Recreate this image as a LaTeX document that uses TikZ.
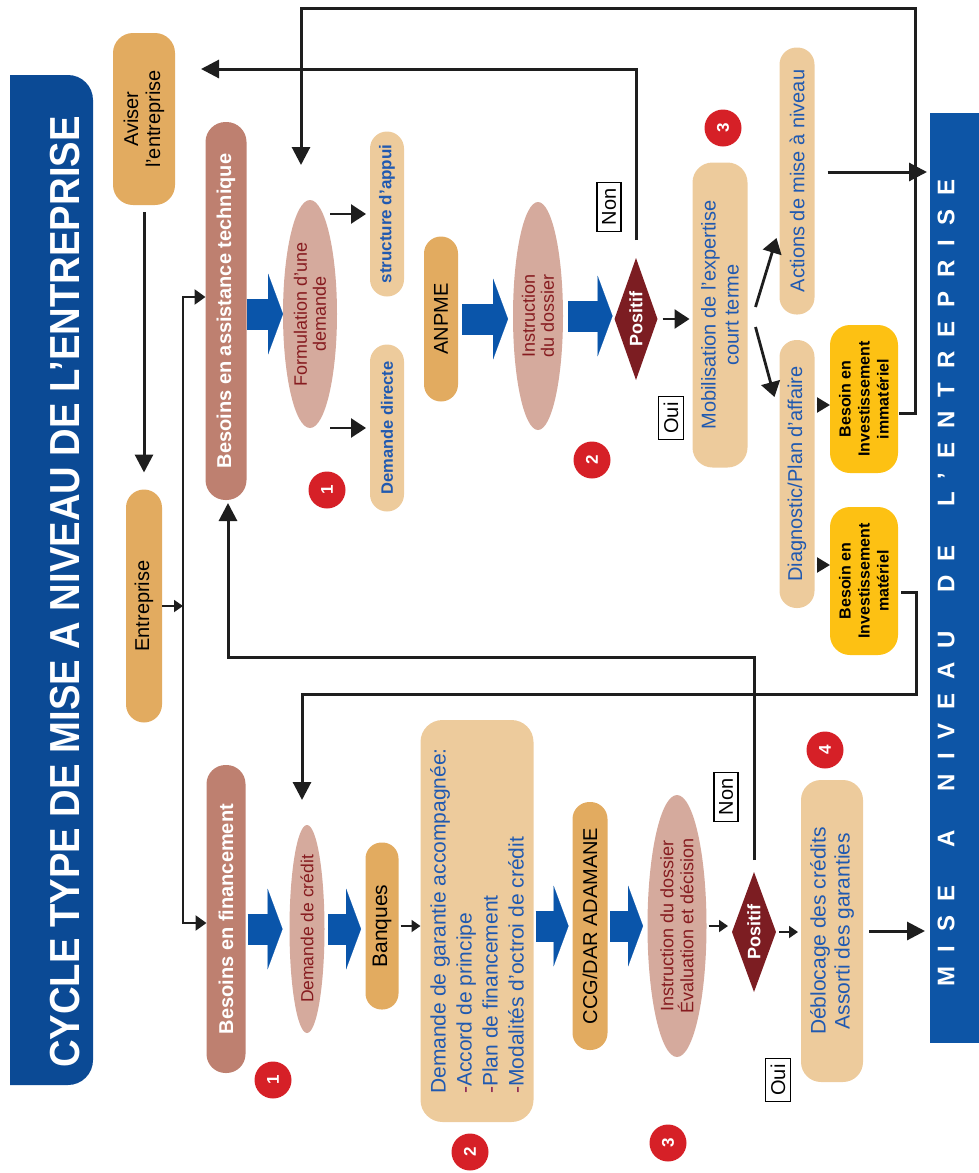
\documentclass[tikz,border=0pt]{standalone}
\usepackage{fontspec}
\setmainfont{Liberation Sans}
\setsansfont{Liberation Sans}
\newfontfamily\titlefont[FakeStretch=0.91]{Liberation Sans}
\newfontfamily\bandfont[LetterSpace=58]{Liberation Sans}
\usetikzlibrary{shapes.geometric,arrows.meta}

\definecolor{cTitle}{HTML}{0B4A95}
\definecolor{cBand}{HTML}{0D55A6}
\definecolor{cArrow}{HTML}{0A55AA}
\definecolor{cTan}{HTML}{E2AB60}
\definecolor{cBrown}{HTML}{BE8070}
\definecolor{cRose}{HTML}{D5AA9D}
\definecolor{cLight}{HTML}{EDCB9C}
\definecolor{cYellow}{HTML}{FDC113}
\definecolor{cDia}{HTML}{7C1D22}
\definecolor{cRed}{HTML}{D62027}
\definecolor{cRedTxt}{HTML}{861B1F}
\definecolor{cBlueTxt}{HTML}{2059B0}
\definecolor{cDash}{HTML}{8B2252}
\definecolor{cLine}{HTML}{1E1E1E}

\newcommand\setfs[2]{\fontsize{#1}{#2}\selectfont}

\tikzset{
  rot/.style={rotate=90, align=center, inner sep=0pt, outer sep=0pt},
  tanbox/.style={rot, fill=cTan, text=black, font=\setfs{20}{22}},
  brownbox/.style={rot, fill=cBrown, text=white, font=\bfseries\setfs{20}{22}},
  lightbox/.style={rot, fill=cLight, text=cBlueTxt, font=\setfs{20}{24}},
  yelbox/.style={rot, fill=cYellow, text=black, font=\bfseries\setfs{16}{19}},
  oval/.style={rot, ellipse, fill=cRose, text=cRedTxt, inner sep=-4pt, font=\setfs{18}{19}},
  decision/.style={rot, diamond, shape aspect=2.8, fill=cDia, text=white, font=\bfseries\setfs{18}{20}},
  tag/.style={rot, draw=black, line width=1.3pt, fill=white, inner xsep=6pt, inner ysep=5pt, font=\setfs{20}{20}},
  num/.style={rot, circle, fill=cRed, text=white, minimum size=37pt, font=\bfseries\setfs{17}{17}},
  fat/.style={draw=cArrow, line width=31pt, -{Triangle[length=15pt,width=81pt,line width=0.1pt]}},
  flow/.style={draw=cLine, line width=3pt, -{Triangle[length=18pt,width=18pt]}},
  sarrow/.style={draw=cLine, line width=2.8pt, -{Triangle[length=15pt,width=19pt]}},
  marrow/.style={draw=cLine, line width=2.4pt, -{Triangle[length=13pt,width=15pt]}},
  busarrow/.style={draw=cLine, line width=2.5pt, -{Triangle[length=11pt,width=15pt]}},
  tinyarrow/.style={draw=cLine, line width=1.8pt, -{Triangle[length=9pt,width=12pt]}},
}

\begin{document}
\begin{tikzpicture}[x=1pt, y=-1pt]
\useasboundingbox (0,0) rectangle (979,1173);

% ---- side bands
\begin{scope}
  \clip (10,0) rectangle (979,1173);
  \fill[cTitle, rounded corners=25pt] (-40,75) rectangle (93,1085);
\end{scope}
\node[rot, fill=cBand, minimum width=930pt, minimum height=49pt] (band) at (954.5,578) {};
\node[rot, text=white, font=\titlefont\bfseries\setfs{42}{42}] (title) at (65,592)
  {CYCLE TYPE DE MISE A NIVEAU DE L’ENTREPRISE};
\node[rot, text=white, font=\bandfont\bfseries\setfs{24}{24}] (bandtxt) at (946,583)
  {MISE\hspace{18pt} A\hspace{18pt} NIVEAU\hspace{18pt} DE\hspace{18pt} L’ENTREPRISE};

% ---- left column
\node[tanbox, minimum width=172pt, minimum height=62pt, rounded corners=20pt] (aviser) at (144,119) {Aviser\\l’entreprise};
\node[tanbox, minimum width=233pt, minimum height=36pt, rounded corners=18pt] (entre) at (144,606) {Entreprise};

% ---- technical assistance row
\node[brownbox, minimum width=378pt, minimum height=41pt, rounded corners=20pt] (besA) at (226,311) {Besoins en assistance technique};
\node[oval, minimum width=228pt, minimum height=54pt] (form) at (310,314) {Formulation d’une\\demande};
\node[lightbox, minimum width=165pt, minimum height=34pt, rounded corners=17pt, font=\bfseries\setfs{17}{17}] (struct) at (387,214) {structure d’appui};
\node[lightbox, minimum width=167pt, minimum height=34pt, rounded corners=17pt, font=\bfseries\setfs{16.5}{17}] (ddir) at (387,428) {Demande directe};
\node[tanbox, minimum width=165pt, minimum height=34pt, rounded corners=17pt] (anpme) at (441,319) {ANPME};
\node[oval, minimum width=228pt, minimum height=50pt] (instA) at (538,316) {Instruction\\du dossier};
\node[decision, minimum width=122pt, minimum height=43pt] (posA) at (636,319) {Positif};
\node[tag] (nonA) at (609,207) {Non};
\node[tag] (ouiA) at (671,418) {Oui};
\node[lightbox, minimum width=305pt, minimum height=55pt, rounded corners=20pt, font=\setfs{20}{23}] (mobil) at (720,315) {Mobilisation de l’expertise\\court terme};
\node[lightbox, minimum width=267pt, minimum height=35pt, rounded corners=17pt] (actions) at (797,181) {Actions de mise à niveau};
\node[lightbox, minimum width=268pt, minimum height=35pt, rounded corners=17pt] (diag) at (797,474) {Diagnostic/Plan d’affaire};
\node[yelbox, minimum width=148pt, minimum height=68pt, rounded corners=20pt] (immat) at (864,399) {Besoin en\\Investissement\\immatériel};
\node[yelbox, minimum width=148pt, minimum height=68pt, rounded corners=20pt] (mat) at (864,581) {Besoin en\\Investissement\\matériel};

% ---- financing row
\node[brownbox, minimum width=308pt, minimum height=39pt, rounded corners=19pt] (besF) at (226,919) {Besoins en financement};
\node[oval, minimum width=208pt, minimum height=35pt, font=\setfs{17.5}{18}] (credit) at (307,929) {Demande de crédit};
\node[tanbox, minimum width=167pt, minimum height=33pt, rounded corners=16pt, font=\setfs{21}{21}] (banques) at (382,926) {Banques};
\node[lightbox, minimum width=402pt, minimum height=113pt, rounded corners=22pt, align=left, font=\setfs{21}{26}] (garantie) at (477,921)
  {Demande de garantie accompagnée:\\\textcolor{cDash}{-}Accord de principe\\\textcolor{cDash}{-}Plan de financement\\\textcolor{cDash}{-}Modalités d’octroi de crédit};
\node[tanbox, minimum width=248pt, minimum height=35pt, rounded corners=17pt] (ccg) at (590,926) {CCG/DAR ADAMANE};
\node[oval, minimum width=262pt, minimum height=59pt, font=\setfs{18}{20}] (instB) at (677,926) {Instruction du dossier\\Évaluation et décision};
\node[decision, minimum width=120pt, minimum height=44pt] (posB) at (754,932) {Positif};
\node[tag] (nonB) at (726,797) {Non};
\node[tag] (ouiB) at (778,1080) {Oui};
\node[lightbox, minimum width=302pt, minimum height=62pt, rounded corners=20pt, font=\setfs{21}{24}] (debloc) at (832,931) {Déblocage des crédits\\Assorti des garanties};

% ---- step numbers
\node[num] (n1a) at (327,490) {1};
\node[num] (n2a) at (592,460) {2};
\node[num] (n3a) at (723,128) {3};
\node[num] (n1b) at (273,1080) {1};
\node[num] (n2b) at (470,1152) {2};
\node[num] (n3b) at (668,1143) {3};
\node[num] (n4b) at (825,750) {4};

% ---- bold process arrows
\draw[fat] (besA.south |- form.north) -- (form.north);
\draw[fat, shorten <=4pt, shorten >=5pt] (anpme.south) -- (anpme.south -| instA.north);
\draw[fat, shorten <=5pt, shorten >=2pt] (instA.south) -- (instA.south -| posA.north);
\draw[fat, shorten <=2pt, shorten >=7pt] (besF.south |- credit.north) -- (credit.north);
\draw[fat, shorten <=3.5pt, shorten >=4.5pt] (credit.south) -- (credit.south -| banques.north);
\draw[fat, shorten <=2pt, shorten >=4pt] (garantie.south |- ccg.north) -- (ccg.north);
\draw[fat, shorten <=2.5pt, shorten >=4.5pt] (ccg.south) -- (ccg.south -| instB.north);

% ---- entry bus
\coordinate (busTop) at (183,297);
\coordinate (busBot) at (183,923);
\draw[busarrow] (busBot) -- (busTop) -- (busTop -| besA.north);
\draw[busarrow] (busTop) -- (busBot) -- (busBot -| besF.north);
\draw[tinyarrow] (entre.south) -- (entre.south -| busTop);
\draw[flow, shorten <=7pt, shorten >=17pt] (aviser.west) -- (entre.east);

% ---- short arrows
\draw[sarrow, shorten <=-7pt, shorten >=4pt] (form.south |- struct.north) -- (struct.north);
\draw[sarrow, shorten <=-7pt, shorten >=4pt] (form.south |- ddir.north) -- (ddir.north);
\draw[sarrow, shorten <=5pt, shorten >=3pt] (posA.south) -- (posA.south -| mobil.north);
\draw[sarrow] ([xshift=8pt, yshift=8pt]mobil.south) -- ([xshift=-3pt, yshift=-57pt]actions.north);
\draw[sarrow] ([xshift=8pt, yshift=-12pt]mobil.south) -- ([xshift=-5pt, yshift=77pt]diag.north);
\coordinate (immIn) at ([yshift=-6pt]immat.north);
\coordinate (matIn) at ([yshift=16pt]mat.north);
\draw[marrow, shorten <=2pt] (immIn -| diag.south) -- (immIn);
\draw[marrow, shorten <=2pt] (matIn -| diag.south) -- (matIn);
\draw[tinyarrow, shorten <=2pt] (banques.south) -- (banques.south -| garantie.north);
\draw[tinyarrow, shorten <=2pt, shorten >=4pt] (instB.south) -- (instB.south -| posB.north);
\draw[tinyarrow, shorten <=3pt, shorten >=3pt] (posB.south) -- (posB.south -| debloc.north);

% ---- outputs into the band
\coordinate (actOut) at ([yshift=9pt]actions.south);
\draw[flow, shorten <=13pt, shorten >=3pt] (actOut) -- (actOut -| band.north);
\draw[flow, shorten <=6pt, shorten >=5pt] (debloc.south) -- (debloc.south -| band.north);

% ---- feedback loops
\coordinate (avIn) at (201,69);
\draw[flow, shorten <=18pt] (posA.east) |- (avIn);
\coordinate (immOut) at ([yshift=-14pt]immat.south);
\coordinate (loopR) at (915,8);
\coordinate (formIn) at (301,165);
\draw[flow, shorten <=1pt] (immOut) -| (loopR) -| (formIn);
\coordinate (matOut) at ([yshift=-11pt]mat.south);
\coordinate (loopM) at (916,694);
\coordinate (credIn) at (302,800);
\draw[flow, shorten <=3pt] (matOut) -| (loopM) -| (credIn);
\coordinate (loopN) at (228,657);
\draw[flow, shorten <=12pt, shorten >=3pt] (posB.east) |- (loopN) -- (loopN |- besA.west);
\end{tikzpicture}
\end{document}
